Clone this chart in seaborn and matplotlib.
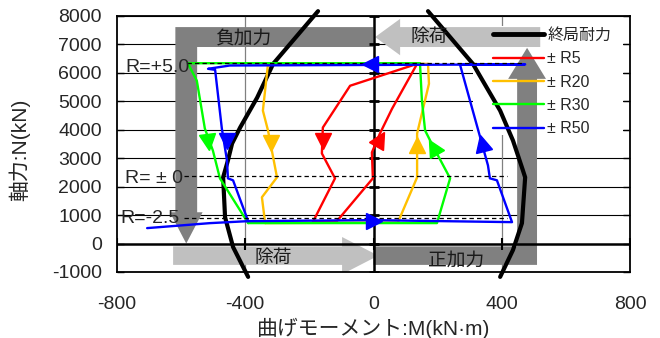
import matplotlib
matplotlib.use("Agg")
import matplotlib.pyplot as plt
from matplotlib.markers import MarkerStyle
from matplotlib.transforms import Affine2D
from matplotlib.patches import Polygon, Rectangle
from matplotlib.lines import Line2D
import numpy as np
import pandas as pd
import seaborn as sns

# ---------------- data ----------------
# ultimate axial-moment capacity envelope, negative and positive branches
cap_left_M = [-173, -313, -363, -416, -441, -454, -469, -463, -438, -391]
cap_left_N = [8170, 6318, 5128, 4078, 3518, 2923, 2328, 928, -122, -1172]
cap_right_M = [170, 310, 395, 435, 466, 473, 463, 435, 395]
cap_right_N = [8170, 6318, 4673, 3623, 2573, 2328, 718, -227, -1172]

levels = ["± R5", "± R20", "± R30", "± R50"]
level_colors = ["#FF0000", "#FFC000", "#00FF00", "#0000FF"]

# M-N paths of each loading cycle
r5_M = [-189, -114, -2, -5, 20, 58, 136, -73, -158, -161, -120, -189]
r5_N = [760, 790, 2293, 3203, 3868, 4743, 6318, 5548, 4078, 3168, 2293, 760]

r20_M = [-338, 76, 136, 136, 173, 170, -329, -345, -329, -301, -348, -338]
r20_N = [720, 740, 2328, 3868, 5618, 6318, 6318, 4673, 3973, 2328, 1628, 720]

r30_M = [-391, 198, 239, 186, 161, 151, 145, -579, -551, -526, -501, -479, -391]
r30_N = [720, 720, 2293, 3413, 3973, 5023, 6340, 6340, 5723, 4043, 3273, 2293, 720]

r50_M = [-706, -510, -391, -2, 432, 385, 363, 357, 270, 473, -448, -516,
         -494, -473, -457, -454, -438, -391]
r50_N = [543, 718, 788, 823, 753, 2223, 2293, 2748, 6283, 6300, 6260, 6143,
         6108, 4043, 2923, 2293, 2223, 788]

# direction arrows on the loops
arrow_level = ["± R5", "± R5", "± R20", "± R20", "± R30", "± R30",
               "± R50", "± R50", "± R50", "± R50"]
arrow_M = [-158, 20, -320, 136, -516, 186, -457, 338, -11, 0]
arrow_N = [3623, 3693, 3518, 3448, 3553, 3378, 3623, 3518, 6295, 800]
arrow_angle = [180, -28, 180, 0, 188, 28, 180, 16, 90, -90]

# reference axial-force levels
r_labels = ["R=+5.0", "R= ± 0", "R=-2.5"]
r_level_N = [6350, 2370, 890]
r_line_from = [-581, -590, -590]
r_line_to = [470, 416, 416]
r_label_M = [-775, -775, -791]
r_label_N = [6178, 2275, 893]

x_ticks = [-800, -400, 0, 400, 800]
y_ticks = list(range(-1000, 9000, 1000))

# ---------------- style ----------------
sns.set_theme(style="white")
plt.rcParams["font.family"] = ["Liberation Sans", "Noto Sans CJK JP"]
plt.rcParams["axes.unicode_minus"] = False

DARK = "#808080"
LIGHT = "#C0C0C0"

fig = plt.figure(figsize=(6.6, 3.38), dpi=100)
ax = fig.add_axes([117 / 660, 1 - 272 / 338, 513 / 660, 256 / 338])
ax.set_xlim(-800, 800)
ax.set_ylim(-1000, 8000)
ax.set_xticks(x_ticks)
ax.set_yticks(y_ticks)
ax.tick_params(axis="y", left=True, right=True, direction="in", length=5,
               width=1, color="black", labelsize=14, pad=11)
ax.tick_params(axis="x", bottom=False, labelsize=14, pad=11)
for s in ax.spines.values():
    s.set_color("black")
    s.set_linewidth(1.3)

# grid
for y in y_ticks:
    if y != 0:
        ax.axhline(y, color="black", lw=0.8, zorder=0.5)
for x in (-400, 400):
    ax.axvline(x, color=DARK, lw=0.9, zorder=0.5)

# legend backdrop
ax.add_patch(Rectangle((0.694, 0.535), 0.292, 0.426, transform=ax.transAxes,
                       facecolor="white", edgecolor="none", zorder=0.8))

# load-path guide arrows
light_bottom = [(-625, -100), (-98, -100), (-98, 230), (15, -425),
                (-98, -1080), (-98, -750), (-625, -750)]
light_top = [(520, 7610), (83, 7610), (83, 7900), (5, 7260), (83, 6620),
             (83, 6910), (520, 6910)]
dark_neg = [(0, 7610), (-618, 7610), (-618, 1100), (-635, 1100), (-584, 0),
            (-533, 1100), (-550, 1100), (-550, 6910), (0, 6910)]
dark_pos = [(0, -100), (448, -100), (448, 5790), (420, 5790), (479, 6880),
            (538, 5790), (510, 5790), (510, -750), (0, -750)]
for pts, col in ((light_bottom, LIGHT), (light_top, LIGHT),
                 (dark_neg, DARK), (dark_pos, DARK)):
    ax.add_patch(Polygon(pts, closed=True, facecolor=col, edgecolor="none",
                         zorder=1.5))

# main axes through the origin
ax.axhline(0, color="black", lw=1.8, zorder=2)
ax.axvline(0, color="black", lw=1.8, zorder=2)
ax.plot(np.zeros(len(y_ticks)), y_ticks, ls="none", marker="_", ms=7,
        mew=2, color="black", zorder=2)
ax.plot(x_ticks, np.zeros(len(x_ticks)), ls="none", marker="|", ms=9,
        mew=1.5, color="black", zorder=2)

# region labels
txt_kw = dict(fontsize=13.5, color="#1a1a1a", ha="center", va="center",
              zorder=6)
ax.text(-407, 7160, "負加力", **txt_kw)
ax.text(173, 7230, "除荷", **txt_kw)
ax.text(-313, -540, "除荷", **txt_kw)
ax.text(257, -610, "正加力", **txt_kw)

# ultimate capacity
cap = pd.DataFrame({
    "M": cap_left_M + cap_right_M,
    "N": cap_left_N + cap_right_N,
    "branch": ["neg"] * len(cap_left_M) + ["pos"] * len(cap_right_M),
})
sns.lineplot(data=cap, x="M", y="N", units="branch", estimator=None,
             sort=False, color="black", lw=3, clip_on=False, zorder=3,
             ax=ax, legend=False)

# hysteresis loops
paths = pd.concat([
    pd.DataFrame({"M": m, "N": n, "level": lv})
    for m, n, lv in ((r5_M, r5_N, levels[0]), (r20_M, r20_N, levels[1]),
                     (r30_M, r30_N, levels[2]), (r50_M, r50_N, levels[3]))
], ignore_index=True)
palette = dict(zip(levels, level_colors))
sns.lineplot(data=paths, x="M", y="N", hue="level", hue_order=levels,
             palette=palette, estimator=None, sort=False, lw=1.7,
             zorder=4, ax=ax, legend=False)

# axial-force level lines and labels
ax.hlines(r_level_N, r_line_from, r_line_to, colors="black", lw=0.9,
          linestyles=(0, (3.5, 2.5)), zorder=4.5)
for lab, m, n in zip(r_labels, r_label_M, r_label_N):
    ax.text(m, n, lab, fontsize=14, ha="left", va="center", zorder=6)

# direction arrows
for lv, m, n, a in zip(arrow_level, arrow_M, arrow_N, arrow_angle):
    mk = MarkerStyle("^", transform=Affine2D().rotate_deg(a))
    ax.plot([m], [n], ls="none", marker=mk, ms=12, color=palette[lv],
            mec=palette[lv], zorder=5)

ax.set_xlabel("曲げモーメント:M(kN·m)", fontsize=15, va="center")
ax.set_ylabel("軸力:N(kN)", fontsize=15)
ax.xaxis.set_label_coords(0.501, -0.22)
ax.yaxis.set_label_coords(-0.17, 0.477)

handles = [Line2D([], [], color="black", lw=3.5)] + \
    [Line2D([], [], color=c, lw=1.7) for c in level_colors]
leg = ax.legend(handles, ["終局耐力"] + levels, loc="upper left",
                bbox_to_anchor=(493 / 660, 1 - 28 / 338),
                bbox_transform=fig.transFigure, frameon=False, fontsize=11.5,
                handlelength=3.2, handletextpad=0.2, labelspacing=0.52,
                borderpad=0, borderaxespad=0)
leg.set_zorder(7)

fig.savefig("out.png", dpi=100)
